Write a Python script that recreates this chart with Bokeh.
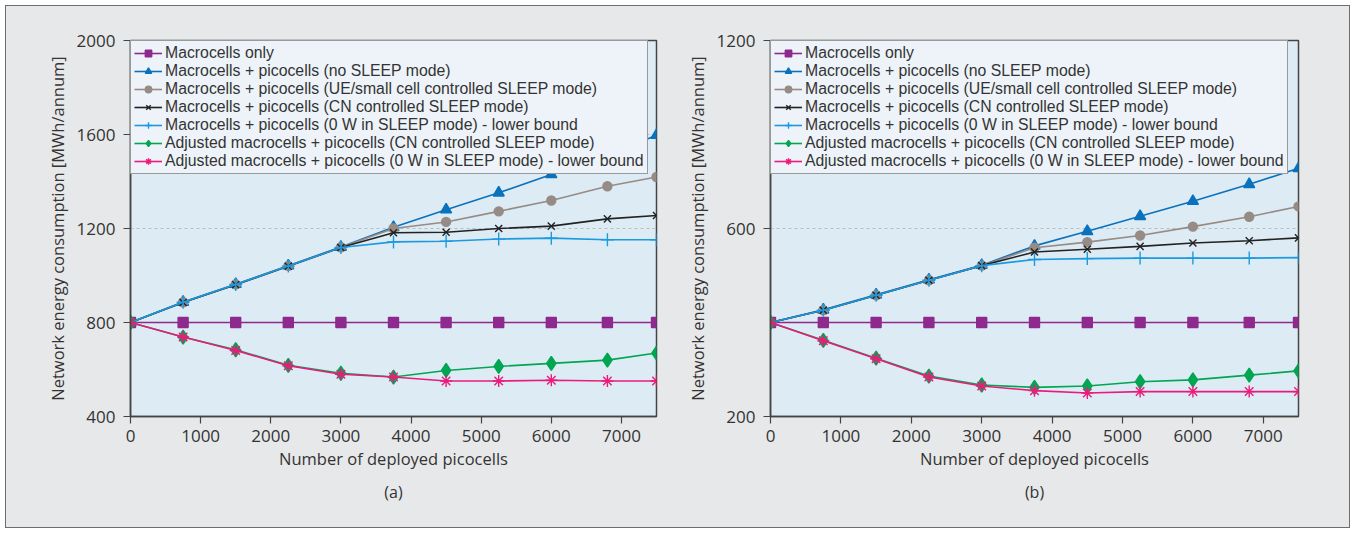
from bokeh.plotting import figure
from bokeh.layouts import row
from bokeh.models import Legend, LegendItem, Title, FixedTicker, Range1d
from bokeh.embed import file_html
from bokeh.resources import INLINE

# ---------------- data ----------------
picocells = [0, 750, 1500, 2250, 3000, 3750, 4500, 5250, 6000, 6800, 7500]

labels = [
    "Macrocells only",
    "Macrocells + picocells (no SLEEP mode)",
    "Macrocells + picocells (UE/small cell controlled SLEEP mode)",
    "Macrocells + picocells (CN controlled SLEEP mode)",
    "Macrocells + picocells (0 W in SLEEP mode) - lower bound",
    "Adjusted macrocells + picocells (CN controlled SLEEP mode)",
    "Adjusted macrocells + picocells (0 W in SLEEP mode) - lower bound",
]

# panel (a)
macro_a = [800, 800, 800, 800, 800, 800, 800, 800, 800, 800, 800]
nosleep_a = [800, 887, 963, 1042, 1121, 1205, 1280, 1352, 1430, 1512, 1597]
ue_a = [800, 886, 962, 1041, 1120, 1200, 1228, 1273, 1319, 1380, 1419]
cn_a = [800, 885, 961, 1039, 1119, 1182, 1184, 1200, 1210, 1241, 1255]
zero_a = [800, 886, 962, 1040, 1119, 1143, 1146, 1155, 1159, 1152, 1152]
adjcn_a = [800, 738, 684, 618, 584, 568, 596, 613, 626, 640, 670]
adjzero_a = [800, 738, 681, 616, 580, 568, 551, 551, 554, 551, 551]

# panel (b)
macro_b = [400, 400, 400, 400, 400, 400, 400, 400, 400, 400, 400]
nosleep_b = [400, 427, 459, 491, 522, 563, 594, 626, 658, 694, 728]
ue_b = [400, 426, 458, 490, 521, 559, 571, 585, 604, 625, 647]
cn_b = [400, 426, 458, 490, 521, 550, 556, 562, 569, 574, 580]
zero_b = [400, 426, 458, 490, 521, 534, 536, 537, 537, 537, 538]
adjcn_b = [400, 362, 324, 286, 267, 262, 265, 274, 278, 288, 297]
adjzero_b = [400, 361, 323, 284, 265, 255, 250, 253, 253, 253, 253]

x_ticks = [0, 1000, 2000, 3000, 4000, 5000, 6000, 7000]
y_ticks_a = [400, 800, 1200, 1600, 2000]
y_ticks_b = [200, 600, 1000]
y_tick_labels_b = {1000: "1200"}

# ---------------- style ----------------
FONT = "Open Sans"
LEG_FONT = "Liberation Sans"
TXT = "#333333"
LINE = "#444444"
styles = [
    dict(color="#8e2a8e", marker="square", size=10),
    dict(color="#0a72bd", marker="triangle", size=11),
    dict(color="#968b85", marker="circle", size=9),
    dict(color="#222222", marker="x", size=10),
    dict(color="#1c9ae0", marker="cross", size=13),
    dict(color="#00a651", marker="diamond", size=14),
    dict(color="#ec1b7b", marker="asterisk", size=12),
]


def make_panel(series, y_range, y_ticks, overrides, tag, width, bl, br):
    p = figure(width=width, height=521, output_backend="svg", toolbar_location=None,
               x_range=Range1d(0, 7500), y_range=Range1d(*y_range),
               min_border_left=bl, min_border_right=br, min_border_top=34,
               min_border_bottom=111)
    p.background_fill_color = "#ddebf5"
    p.border_fill_color = "#e7e8e9"
    p.outline_line_color = LINE
    p.outline_line_width = 1.5
    p.xgrid.visible = False
    p.ygrid.grid_line_color = "#b9bcbf"
    p.ygrid.grid_line_dash = "3 3"
    p.ygrid.ticker = FixedTicker(ticks=y_ticks)

    items = []
    for ys, st, lab in zip(series, styles, labels):
        ln = p.line(picocells, ys, line_color=st["color"], line_width=1.6)
        mk = p.scatter(picocells, ys, marker=st["marker"], size=st["size"],
                       fill_color=st["color"], line_color=st["color"], line_width=1.4)
        items.append(LegendItem(label=lab, renderers=[ln, mk]))

    xa = p.xaxis[0]
    xa.ticker = FixedTicker(ticks=x_ticks)
    ya = p.yaxis[0]
    ya.ticker = FixedTicker(ticks=y_ticks)
    if overrides:
        ya.major_label_overrides = overrides
    for ax in (xa, ya):
        ax.axis_line_color = LINE
        ax.axis_line_width = 1.5
        ax.major_tick_line_color = LINE
        ax.major_tick_line_width = 1.2
        ax.major_tick_out = 7
        ax.major_tick_in = 0
        ax.minor_tick_line_color = None
        ax.major_label_text_font = FONT
        ax.major_label_text_font_size = "17px"
        ax.major_label_text_color = TXT
        ax.axis_label_text_font = FONT
        ax.axis_label_text_font_size = "16.5px"
        ax.axis_label_text_font_style = "normal"
        ax.axis_label_text_color = TXT
    xa.axis_label = "Number of deployed picocells"
    xa.major_label_standoff = 6
    xa.axis_label_standoff = 2
    ya.axis_label = "Network energy consumption [MWh/annum]"
    ya.major_label_standoff = 8
    ya.axis_label_standoff = 5

    leg = Legend(items=items, location="top_left", margin=0, padding=3, spacing=0,
                 glyph_width=28, glyph_height=16, label_height=16, label_standoff=3,
                 label_text_font=LEG_FONT, label_text_font_size="15.8px",
                 label_text_color=TXT,
                 border_line_color=LINE, border_line_width=1.2,
                 background_fill_color="#edf3f9", background_fill_alpha=1.0)
    p.add_layout(leg)

    t = Title(text=tag, align="center", text_font=FONT, text_font_size="16px",
              text_font_style="normal", text_color=TXT, standoff=12)
    p.add_layout(t, "below")
    return p


pa = make_panel([macro_a, nosleep_a, ue_a, cn_a, zero_a, adjcn_a, adjzero_a],
                (400, 2000), y_ticks_a, None, "(a)", 674, 124, 24)
pb = make_panel([macro_b, nosleep_b, ue_b, cn_b, zero_b, adjcn_b, adjzero_b],
                (200, 1000), y_ticks_b, y_tick_labels_b, "(b)", 669, 90, 51)

layout = row(pa, pb, styles={"margin": "5px", "border": "1px solid #6d6e70",
                              "background-color": "#e7e8e9"})
open("out.html", "w").write(file_html(layout, INLINE))
